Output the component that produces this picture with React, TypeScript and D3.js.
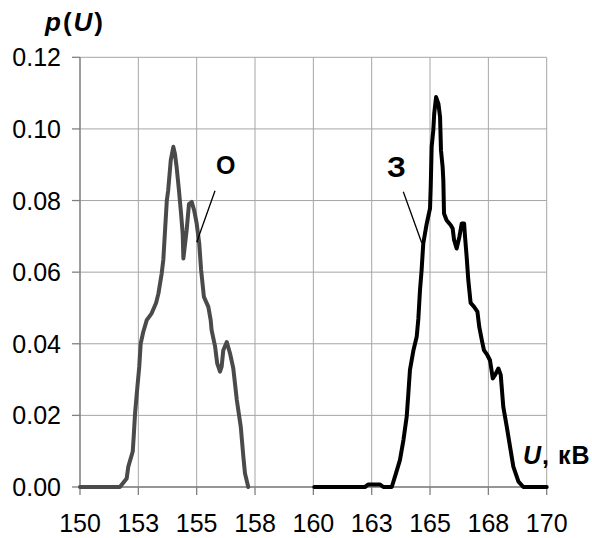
import React from "react";
import * as d3 from "d3";

const xTicks = [150, 152.5, 155, 157.5, 160, 162.5, 165, 167.5, 170];
const xTickLabels = ["150", "153", "155", "158", "160", "163", "165", "168", "170"];
const yTicks = [0, 0.02, 0.04, 0.06, 0.08, 0.1, 0.12];
const yTickLabels = ["0.00", "0.02", "0.04", "0.06", "0.08", "0.10", "0.12"];

const uO = [150.0, 151.71, 152.0, 152.07, 152.26, 152.31, 152.36, 152.46, 152.54, 152.6, 152.71, 152.86, 153.07, 153.26, 153.36, 153.5, 153.57, 153.72, 153.78, 153.89, 154.0, 154.07, 154.14, 154.24, 154.33, 154.4, 154.43, 154.57, 154.67, 154.79, 154.89, 155.0, 155.11, 155.19, 155.31, 155.5, 155.6, 155.64, 155.79, 155.88, 156.0, 156.07, 156.14, 156.29, 156.43, 156.57, 156.72, 156.89, 157.0, 157.07, 157.21];
const pO = [0, 0, 0.0024, 0.0057, 0.0099, 0.015, 0.0206, 0.028, 0.0336, 0.04, 0.0433, 0.0466, 0.0485, 0.0514, 0.054, 0.0596, 0.0634, 0.08, 0.0829, 0.0913, 0.095, 0.093, 0.0894, 0.0829, 0.0764, 0.0708, 0.0638, 0.0717, 0.079, 0.0796, 0.0773, 0.0736, 0.068, 0.0606, 0.0531, 0.0503, 0.0466, 0.0438, 0.0392, 0.0345, 0.0322, 0.0336, 0.0382, 0.0405, 0.0373, 0.0331, 0.0243, 0.0168, 0.0085, 0.0038, 0];

const uZ = [160.04, 162.21, 162.36, 162.86, 163.0, 163.36, 163.54, 163.71, 163.86, 164.0, 164.07, 164.14, 164.29, 164.43, 164.5, 164.57, 164.64, 164.71, 164.86, 165.0, 165.03, 165.07, 165.14, 165.18, 165.26, 165.36, 165.43, 165.47, 165.54, 165.57, 165.6, 165.71, 165.89, 165.97, 166.03, 166.14, 166.26, 166.36, 166.46, 166.5, 166.57, 166.64, 166.74, 166.89, 167.03, 167.11, 167.22, 167.31, 167.46, 167.57, 167.69, 167.79, 167.93, 168.03, 168.14, 168.29, 168.43, 168.57, 168.79, 169.0, 170.0];
const pZ = [0, 0, 0.0007, 0.0007, 0, 0, 0.0038, 0.0075, 0.0131, 0.0196, 0.026, 0.0327, 0.0382, 0.042, 0.047, 0.055, 0.0606, 0.068, 0.0736, 0.0778, 0.0838, 0.095, 0.0996, 0.1043, 0.1089, 0.107, 0.1033, 0.094, 0.0894, 0.0857, 0.0764, 0.0745, 0.0731, 0.0722, 0.069, 0.0666, 0.0699, 0.0736, 0.0736, 0.0699, 0.0643, 0.0578, 0.0514, 0.0503, 0.049, 0.0447, 0.041, 0.0382, 0.0368, 0.0354, 0.0303, 0.0313, 0.0331, 0.0313, 0.0224, 0.0168, 0.0112, 0.0057, 0.0015, 0, 0];

const FONT = "Arial, 'Liberation Sans', sans-serif";

export default function App() {
  const x = d3.scaleLinear().domain([150, 170]).range([80, 546.7]);
  const y = d3.scaleLinear().domain([0, 0.12]).range([487, 57.3]);
  const line = d3
    .line<[number, number]>()
    .x((d) => x(d[0]))
    .y((d) => y(d[1]));
  const dO = line(uO.map((u, i) => [u, pO[i]] as [number, number])) || "";
  const dZ = line(uZ.map((u, i) => [u, pZ[i]] as [number, number])) || "";
  const grid = "#a6a6a6";
  return (
    <svg
      width={592}
      height={538}
      style={{ position: "absolute", left: 0, top: 0, background: "#fff" }}
      fontFamily={FONT}
    >
      <rect x={0} y={0} width={592} height={538} fill="#fff" />
      {yTicks.map((t) => (
        <line key={"gy" + t} x1={x(150)} x2={x(170)} y1={y(t)} y2={y(t)} stroke={grid} strokeWidth={1} />
      ))}
      {xTicks.map((t) => (
        <line key={"gx" + t} x1={x(t)} x2={x(t)} y1={y(0)} y2={y(0.12)} stroke={grid} strokeWidth={1} />
      ))}
      <line x1={x(150)} x2={x(150)} y1={y(0)} y2={y(0.12)} stroke="#808080" strokeWidth={1.3} />
      <line x1={x(150)} x2={x(170)} y1={y(0)} y2={y(0)} stroke="#808080" strokeWidth={1.3} />
      {yTicks.map((t, i) => (
        <g key={"ty" + t}>
          <line x1={x(150) - 8} x2={x(150)} y1={y(t)} y2={y(t)} stroke="#808080" strokeWidth={1.3} />
          <text x={61} y={y(t) + 9} fontSize={25} textAnchor="end" fill="#000">
            {yTickLabels[i]}
          </text>
        </g>
      ))}
      {xTicks.map((t, i) => (
        <g key={"tx" + t}>
          <line x1={x(t)} x2={x(t)} y1={y(0)} y2={y(0) + 8} stroke="#808080" strokeWidth={1.3} />
          <text x={x(t)} y={532} fontSize={25} textAnchor="middle" fill="#000">
            {xTickLabels[i]}
          </text>
        </g>
      ))}
      <path d={dO} fill="none" stroke="#4a4a4a" strokeWidth={4} strokeLinejoin="round" strokeLinecap="round" />
      <path d={dZ} fill="none" stroke="#000" strokeWidth={4} strokeLinejoin="round" strokeLinecap="round" />
      <line x1={215} y1={190.7} x2={196.7} y2={242.3} stroke="#000" strokeWidth={1.3} />
      <line x1={403.3} y1={191.7} x2={421.7} y2={242.7} stroke="#000" strokeWidth={1.3} />
      <text x={216} y={174} fontSize={25} fontWeight="bold" fill="#000">О</text>
      <text x={387} y={177} fontSize={30} fontWeight="bold" fill="#000">З</text>
      <text x={45} y={31} fontSize={26} fontWeight="bold" fill="#000" letterSpacing={2}>
        <tspan fontStyle="italic">p</tspan>
        <tspan>(</tspan>
        <tspan fontStyle="italic">U</tspan>
        <tspan>)</tspan>
      </text>
      <text x={523} y={464} fontSize={25} fontWeight="bold" fill="#000" letterSpacing={1}>
        <tspan fontStyle="italic">U</tspan>
        <tspan>, кВ</tspan>
      </text>
    </svg>
  );
}
